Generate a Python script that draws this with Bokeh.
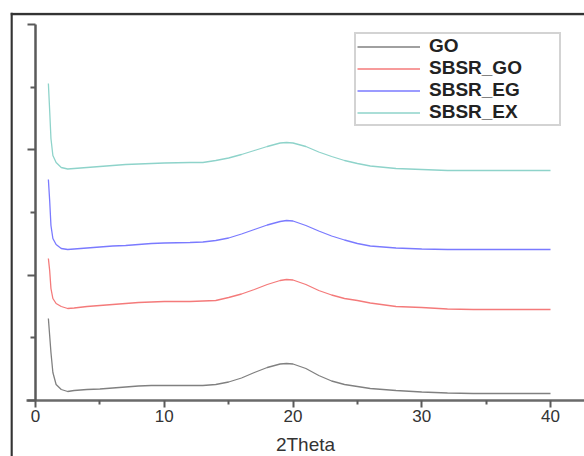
from bokeh.plotting import figure
from bokeh.models import (Range1d, LinearAxis, FixedTicker, Legend, LegendItem,
                          Span, CustomJSTickFormatter)
from bokeh.embed import file_html
from bokeh.resources import INLINE

# ---- data (curves stacked with offsets, arbitrary units)
two_theta = [1.0, 1.1, 1.2, 1.35, 1.6, 2.0, 2.5, 3, 4, 5, 6, 7, 8, 9, 10, 12, 13, 14,
             15, 16, 17, 18, 19, 19.5, 20, 21, 22, 23, 24, 25, 26, 28, 30, 32, 34, 36, 38, 40]
go = [82, 65, 48, 28, 16, 11, 9, 10, 11, 11.5, 12.5, 13.5, 14.5, 15, 15, 15, 15, 16,
      18.5, 22.5, 28, 33, 36.5, 37, 36.5, 32, 25, 19.5, 16, 14, 12, 10, 8.5, 7.5, 7, 7, 7, 7]
sbsr_go = [142, 130, 112, 102, 97, 94, 92, 92.5, 94, 95, 96, 97, 98, 98.5, 99, 99, 99.5, 100,
           103, 106.5, 111, 116, 120, 121, 120.5, 116, 110, 105.5, 102, 100, 97.5, 94, 93,
           91.5, 91, 91, 91, 91]
sbsr_eg = [221, 200, 175, 162, 156, 152, 151, 151.5, 152.5, 153.5, 154.5, 155, 156, 157,
           157.5, 158, 158.5, 160, 162.5, 166.5, 171, 175.5, 179, 180, 179.5, 175, 169.5,
           164.5, 160.5, 157, 154.5, 152.5, 151.5, 151, 151, 151, 151, 151]
sbsr_ex = [317, 290, 262, 245, 238, 233, 231.5, 232, 233, 234, 235, 236, 236.5, 237, 237.5,
           238, 238, 240, 242.5, 246, 250, 254, 257.5, 258, 257.5, 254, 248.5, 244, 240,
           237, 234.5, 232, 231, 230, 230, 230, 230, 230]

series_names = ["GO", "SBSR_GO", "SBSR_EG", "SBSR_EX"]
series_values = [go, sbsr_go, sbsr_eg, sbsr_ex]
series_colors = ["#808080", "#f47a7a", "#7a7aff", "#8ed3ca"]

x_major = [0, 10, 20, 30, 40]
x_minor = [5, 15, 25, 35]
y_major = [0, 125.33, 250.67, 376]
y_minor = [62.67, 188, 313.33]

FONT = "Liberation Sans"

p = figure(width=584, height=456, output_backend="svg", toolbar_location=None,
           x_range=Range1d(-1.942, 42.64), y_range=Range1d(-56, 388),
           x_axis_location=None, y_axis_location=None,
           min_border_left=10, min_border_top=12, min_border_right=0, min_border_bottom=0)
p.outline_line_color = None
p.background_fill_color = "white"
p.border_fill_color = "white"
p.grid.grid_line_color = None
p.grid.visible = False

renderers = []
for name, vals, col in zip(series_names, series_values, series_colors):
    r = p.line(two_theta, vals, line_color=col, line_width=1.3)
    renderers.append((name, r))

axis_col = "#5a5a5a"
xaxis = LinearAxis(fixed_location=0, bounds=(-0.7, 42.64),
                   ticker=FixedTicker(ticks=x_major, minor_ticks=x_minor),
                   axis_label="2Theta")
xaxis.axis_line_color = "#6a6a6a"
xaxis.axis_line_width = 2.5
xaxis.major_tick_line_color = axis_col
xaxis.major_tick_line_width = 2
xaxis.major_tick_in = 0
xaxis.major_tick_out = 7
xaxis.minor_tick_line_color = axis_col
xaxis.minor_tick_line_width = 2
xaxis.minor_tick_in = 0
xaxis.minor_tick_out = 4
xaxis.major_label_text_font = FONT
xaxis.major_label_text_font_size = "17px"
xaxis.major_label_text_color = "#333333"
xaxis.major_label_standoff = 2
xaxis.axis_label_text_font = FONT
xaxis.axis_label_text_font_style = "normal"
xaxis.axis_label_text_font_size = "19px"
xaxis.axis_label_text_color = "#333333"
xaxis.axis_label_standoff = 9
p.add_layout(xaxis, "below")

yaxis = LinearAxis(fixed_location=0, bounds=(0, 376),
                   ticker=FixedTicker(ticks=y_major, minor_ticks=y_minor),
                   formatter=CustomJSTickFormatter(code="return ''"))
yaxis.axis_line_color = axis_col
yaxis.axis_line_width = 2.5
yaxis.major_tick_line_color = axis_col
yaxis.major_tick_line_width = 2
yaxis.major_tick_in = 0
yaxis.major_tick_out = 8
yaxis.minor_tick_line_color = axis_col
yaxis.minor_tick_line_width = 2
yaxis.minor_tick_in = 0
yaxis.minor_tick_out = 5
p.add_layout(yaxis, "left")

# outer frame (left and top edges of the picture box)
p.add_layout(Span(location=-1.864, dimension="height", line_color="#333333", line_width=2.5))
p.add_layout(Span(location=386.5, dimension="width", line_color="#333333", line_width=2.5))

legend = Legend(items=[LegendItem(label=n, renderers=[r]) for n, r in renderers],
                location=(344, 330))
legend.label_text_font = FONT
legend.label_text_font_style = "bold"
legend.label_text_font_size = "19px"
legend.label_text_color = "#222222"
legend.glyph_width = 63
legend.glyph_height = 21
legend.label_height = 21
legend.label_width = 129
legend.label_standoff = 9
legend.spacing = 0
legend.padding = 1
legend.margin = 0
legend.border_line_color = "#a8a8a8"
legend.border_line_width = 2
legend.background_fill_color = "white"
legend.background_fill_alpha = 1
p.add_layout(legend)

open("out.html", "w").write(file_html(p, INLINE))
